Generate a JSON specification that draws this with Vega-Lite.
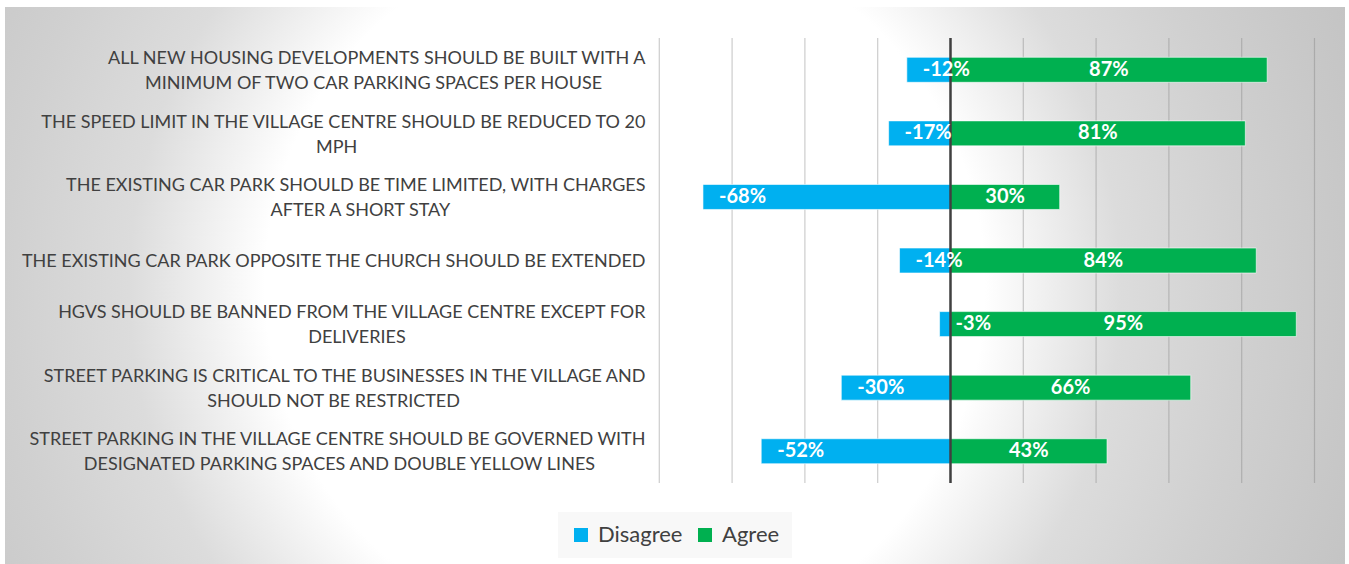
{
  "$schema": "https://vega.github.io/schema/vega-lite/v6.json",
  "width": 1340,
  "height": 557,
  "autosize": {"type": "none"},
  "padding": {"left": 5, "top": 7, "right": 4, "bottom": 0},
  "background": "#ffffff",
  "config": {
    "font": "Lato",
    "locale": {"number": {"decimal": ".", "thousands": ",", "grouping": [3], "currency": ["$", ""], "minus": "-"}},
    "view": {
      "stroke": null,
      "fill": {
        "gradient": "radial",
        "x1": 0.4627, "y1": 0.5011, "r1": 0,
        "x2": 0.4627, "y2": 0.5011, "r2": 0.597,
        "stops": [
          {"offset": 0, "color": "#ffffff"},
          {"offset": 0.45, "color": "#ffffff"},
          {"offset": 0.62, "color": "#dcdcdc"},
          {"offset": 0.775, "color": "#d0d0d0"},
          {"offset": 0.9, "color": "#c8c8c8"},
          {"offset": 1, "color": "#c2c2c2"}
        ]
      }
    }
  },
  "data": {
    "values": [
      {"statement": "ALL NEW HOUSING DEVELOPMENTS SHOULD BE BUILT WITH A|MINIMUM OF TWO CAR PARKING SPACES PER HOUSE", "response": "Disagree", "value": -0.12},
      {"statement": "ALL NEW HOUSING DEVELOPMENTS SHOULD BE BUILT WITH A|MINIMUM OF TWO CAR PARKING SPACES PER HOUSE", "response": "Agree", "value": 0.87},
      {"statement": "THE SPEED LIMIT IN THE VILLAGE CENTRE SHOULD BE REDUCED TO 20|MPH", "response": "Disagree", "value": -0.17},
      {"statement": "THE SPEED LIMIT IN THE VILLAGE CENTRE SHOULD BE REDUCED TO 20|MPH", "response": "Agree", "value": 0.81},
      {"statement": "THE EXISTING CAR PARK SHOULD BE TIME LIMITED, WITH CHARGES|AFTER A SHORT STAY", "response": "Disagree", "value": -0.68},
      {"statement": "THE EXISTING CAR PARK SHOULD BE TIME LIMITED, WITH CHARGES|AFTER A SHORT STAY", "response": "Agree", "value": 0.30},
      {"statement": "THE EXISTING CAR PARK OPPOSITE THE CHURCH SHOULD BE EXTENDED", "response": "Disagree", "value": -0.14},
      {"statement": "THE EXISTING CAR PARK OPPOSITE THE CHURCH SHOULD BE EXTENDED", "response": "Agree", "value": 0.84},
      {"statement": "HGVS SHOULD BE BANNED FROM THE VILLAGE CENTRE EXCEPT FOR|DELIVERIES", "response": "Disagree", "value": -0.03},
      {"statement": "HGVS SHOULD BE BANNED FROM THE VILLAGE CENTRE EXCEPT FOR|DELIVERIES", "response": "Agree", "value": 0.95},
      {"statement": "STREET PARKING IS CRITICAL TO THE BUSINESSES IN THE VILLAGE AND|SHOULD NOT BE RESTRICTED", "response": "Disagree", "value": -0.30},
      {"statement": "STREET PARKING IS CRITICAL TO THE BUSINESSES IN THE VILLAGE AND|SHOULD NOT BE RESTRICTED", "response": "Agree", "value": 0.66},
      {"statement": "STREET PARKING IN THE VILLAGE CENTRE SHOULD BE GOVERNED WITH|DESIGNATED PARKING SPACES AND DOUBLE YELLOW LINES", "response": "Disagree", "value": -0.52},
      {"statement": "STREET PARKING IN THE VILLAGE CENTRE SHOULD BE GOVERNED WITH|DESIGNATED PARKING SPACES AND DOUBLE YELLOW LINES", "response": "Agree", "value": 0.43}
    ]
  },
  "resolve": {"scale": {"y": "independent"}, "axis": {"y": "independent"}},
  "layer": [
    {
      "data": {"values": [{"v": -0.8}, {"v": -0.6}, {"v": -0.4}, {"v": -0.2}, {"v": 0}, {"v": 0.2}, {"v": 0.4}, {"v": 0.6}, {"v": 0.8}, {"v": 1.0}]},
      "mark": {"type": "rule", "stroke": "#7f7f7f", "strokeOpacity": 0.4, "strokeWidth": 1.2},
      "encoding": {
        "x": {"field": "v", "type": "quantitative", "scale": {"domain": [-2.5975, 1.0838], "nice": false, "zero": false}, "axis": null},
        "y": {"datum": 0, "type": "quantitative", "scale": {"domain": [-0.182, 1.0697], "nice": false, "zero": false}, "axis": null},
        "y2": {"datum": 1}
      }
    },
    {
      "mark": {"type": "bar", "height": {"band": 0.393}, "stroke": "#ffffff", "strokeWidth": 1, "strokeOpacity": 0.6},
      "encoding": {
        "y": {
          "field": "statement", "type": "nominal", "sort": null,
          "scale": {"type": "band", "paddingInner": 0, "paddingOuter": 0.881, "align": 0.277},
          "axis": {
            "orient": "left", "title": null, "domain": false, "ticks": false, "grid": false,
            "offset": -640, "labelPadding": 0, "labelLimit": 0,
            "labelFont": "Lato", "labelFontSize": 18, "labelColor": "#404040",
            "labelAlign": "right", "labelBaseline": "middle",
            "labelExpr": "split(datum.value, '|')[0]",
            "encoding": {"labels": {"dy": {"value": {"expr": "indexof(datum.value, '|') < 0 ? 1.5 : -10.8"}}}}
          }
        },
        "x": {"field": "value", "type": "quantitative", "stack": null, "scale": {"domain": [-2.5975, 1.0838], "nice": false, "zero": false}, "axis": null},
        "color": {
          "field": "response", "type": "nominal",
          "scale": {"domain": ["Disagree", "Agree"], "range": ["#00B0F0", "#00B050"]},
          "legend": {
            "orient": "none", "legendX": 553, "legendY": 505, "direction": "horizontal", "title": null,
            "symbolType": "square", "symbolSize": 196, "symbolStrokeWidth": 0,
            "labelFont": "Lato", "labelFontSize": 22, "labelColor": "#404040", "labelOffset": 6,
            "fillColor": "#f8f8f8", "padding": 12, "columnPadding": 11
          }
        }
      }
    },
    {
      "data": {"values": [{"v": 0}]},
      "mark": {"type": "rule", "stroke": "#404040", "strokeWidth": 2.5},
      "encoding": {
        "x": {"field": "v", "type": "quantitative", "scale": {"domain": [-2.5975, 1.0838], "nice": false, "zero": false}, "axis": null},
        "y": {"datum": 0, "type": "quantitative", "scale": {"domain": [-0.182, 1.0697], "nice": false, "zero": false}, "axis": null},
        "y2": {"datum": 1}
      }
    },
    {
      "transform": [{"filter": "datum.response === 'Agree'"}],
      "mark": {"type": "text", "color": "#ffffff", "font": "Lato", "fontWeight": "bold", "fontSize": 20, "align": "center", "baseline": "middle"},
      "encoding": {
        "y": {
          "field": "statement", "type": "nominal", "sort": null,
          "scale": {"type": "band", "paddingInner": 0, "paddingOuter": 0.881, "align": 0.277},
          "axis": {
            "orient": "left", "title": null, "domain": false, "ticks": false, "grid": false,
            "offset": -640, "labelPadding": 0, "labelLimit": 0,
            "labelFont": "Lato", "labelFontSize": 18, "labelColor": "#404040",
            "labelAlign": "right", "labelBaseline": "middle",
            "labelExpr": "indexof(datum.value, '|') < 0 ? '' : split(datum.value, '|')[1]",
            "encoding": {"labels": {
              "dy": {"value": 14.2},
              "dx": {"value": {"expr": "indexof(datum.value, '|') < 0 ? 0 : -5.9 * ((-0.15 * length(split(datum.value, '|')[0]) + 0.65 * length(replace(split(datum.value, '|')[0], / /g, '')) + 0.5 * length(replace(split(datum.value, '|')[0], /I/g, ''))) - (-0.15 * length(split(datum.value, '|')[1]) + 0.65 * length(replace(split(datum.value, '|')[1], / /g, '')) + 0.5 * length(replace(split(datum.value, '|')[1], /I/g, ''))))"}}
            }}
          }
        },
        "x": {"field": "value", "type": "quantitative", "stack": "zero", "bandPosition": 0.5, "scale": {"domain": [-2.5975, 1.0838], "nice": false, "zero": false}, "axis": null},
        "detail": {"field": "response", "type": "nominal"},
        "text": {"field": "value", "type": "quantitative", "format": ".0%"}
      }
    },
    {
      "transform": [{"filter": "datum.response === 'Disagree'"}],
      "mark": {"type": "text", "color": "#ffffff", "font": "Lato", "fontWeight": "bold", "fontSize": 20, "align": "left", "baseline": "middle", "dx": 16},
      "encoding": {
        "y": {"field": "statement", "type": "nominal", "sort": null, "scale": {"type": "band", "paddingInner": 0, "paddingOuter": 0.881, "align": 0.277}, "axis": null},
        "x": {"field": "value", "type": "quantitative", "scale": {"domain": [-2.5975, 1.0838], "nice": false, "zero": false}, "axis": null},
        "text": {"field": "value", "type": "quantitative", "format": ".0%"}
      }
    }
  ]
}
